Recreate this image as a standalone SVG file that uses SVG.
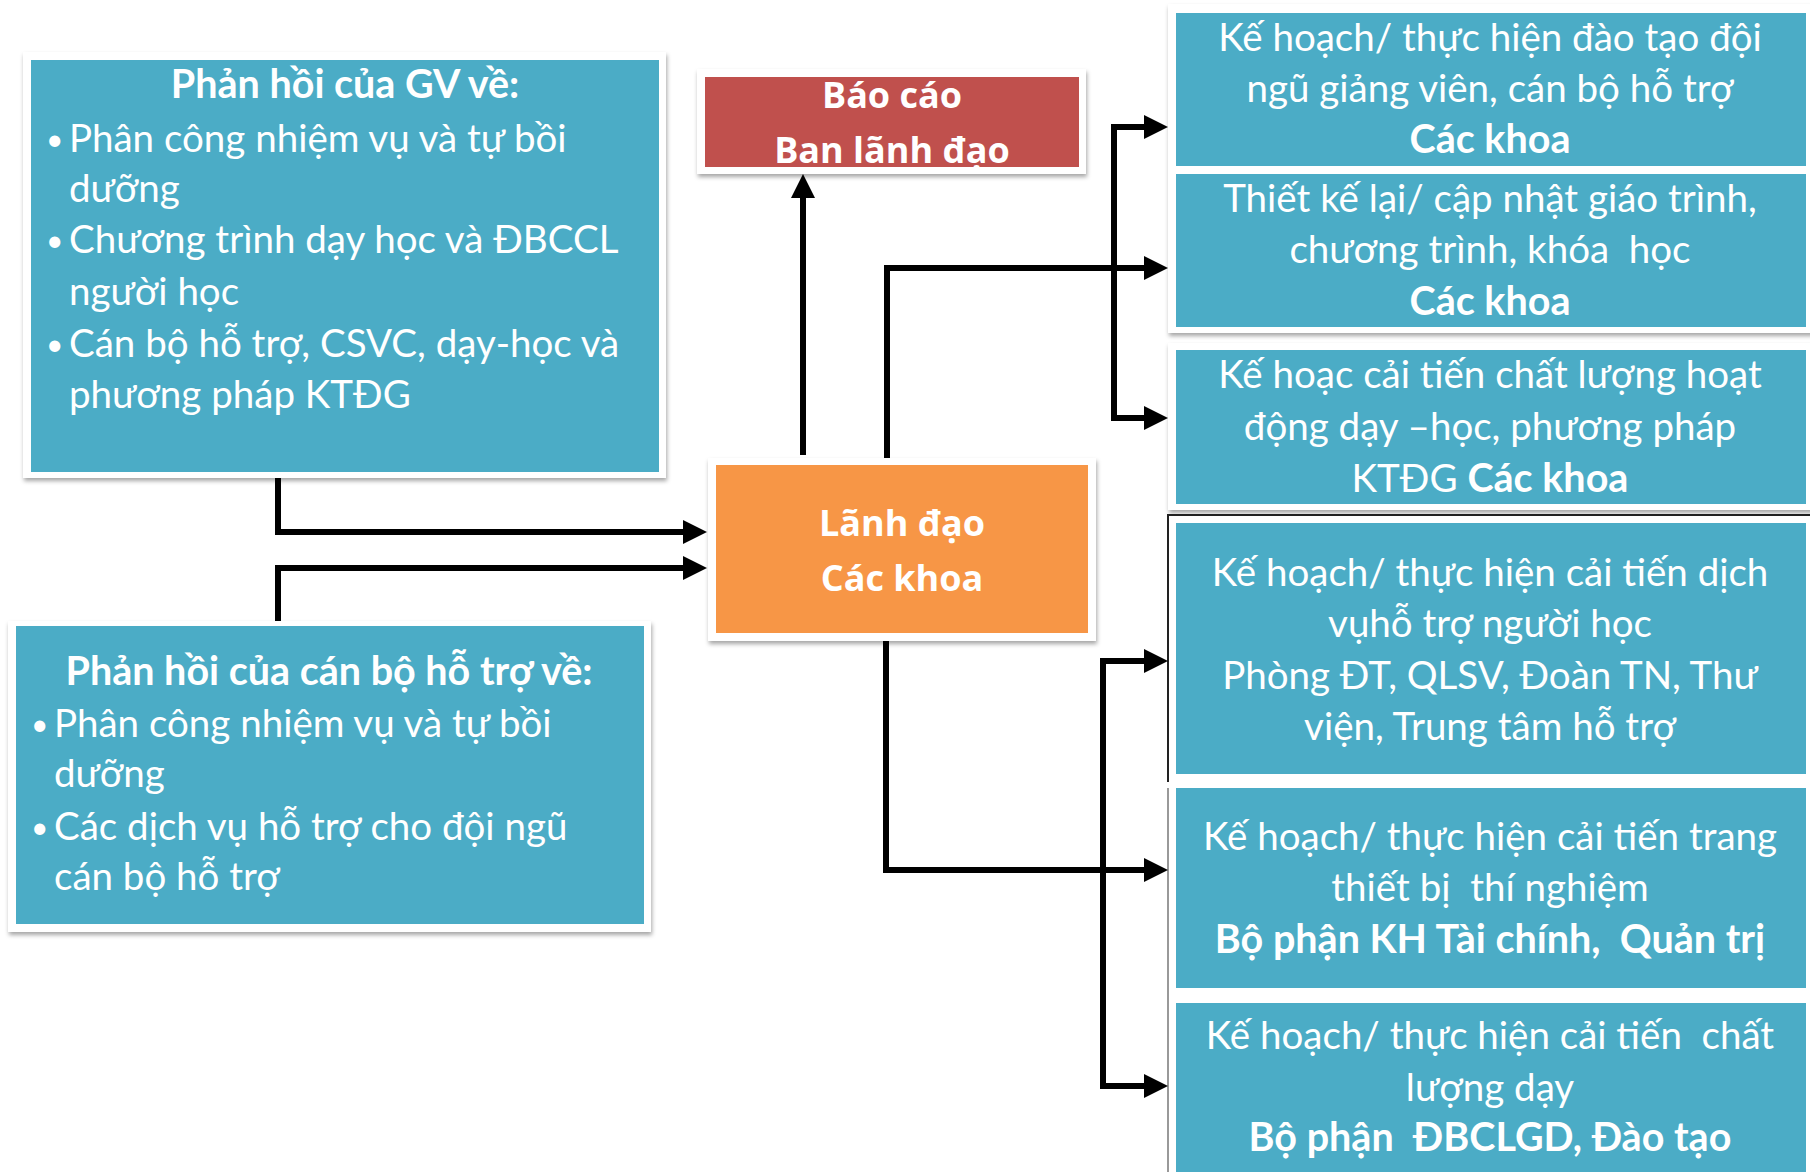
<svg xmlns="http://www.w3.org/2000/svg" width="1810" height="1172" viewBox="0 0 1810 1172">
<defs>
<style>
.frame{fill:#ffffff;filter:url(#sh)}
.blue{fill:#4BACC6}
.t{font-family:Lato,"Open Sans","Noto Sans",sans-serif;font-size:38.5px;fill:#ffffff}
.b{font-weight:bold;font-size:39.5px}
.c{text-anchor:middle}
.bu{font-family:Lato,"Open Sans",sans-serif;font-size:30px;fill:#ffffff}
.h{font-family:"Open Sans","Noto Sans",sans-serif;font-size:36px;font-weight:bold;fill:#ffffff;text-anchor:middle}
.con{fill:none;stroke:#000000;stroke-width:6;stroke-linejoin:miter;marker-end:url(#ah)}
.thin{fill:none;stroke:#222222;stroke-width:2}
</style>
<filter id="sh" x="-5%" y="-5%" width="110%" height="115%">
<feDropShadow dx="1" dy="3" stdDeviation="2" flood-color="#000" flood-opacity="0.35"/>
</filter>
<marker id="ah" viewBox="0 0 24 24" refX="4" refY="12" markerWidth="24" markerHeight="24" markerUnits="userSpaceOnUse" orient="auto-start-reverse">
<path d="M0,0 L24,12 L0,24 z" fill="#000000"/>
</marker>
</defs>
<rect width="1810" height="1172" fill="#ffffff"/>

<g id="gv-feedback">
<rect class="frame" x="23" y="52" width="643" height="426"/>
<rect class="blue" x="31" y="60" width="628" height="412"/>
<text class="t b c" x="345" y="98">Phản hồi của GV về:</text>
<text class="bu" x="46" y="150">•</text><text class="t" x="69" y="152">Phân công nhiệm vụ và tự bồi</text>
<text class="t" x="69" y="202">dưỡng</text>
<text class="bu" x="46" y="251">•</text><text class="t" x="69" y="253">Chương trình dạy học và ĐBCCL</text>
<text class="t" x="69" y="305">người học</text>
<text class="bu" x="46" y="355">•</text><text class="t" x="69" y="357">Cán bộ hỗ trợ, CSVC, dạy-học và</text>
<text class="t" x="69" y="408">phương pháp KTĐG</text>
</g>

<g id="support-feedback">
<rect class="frame" x="8" y="621" width="643" height="311"/>
<rect class="blue" x="16" y="626" width="628" height="298"/>
<text class="t b c" x="329" y="685">Phản hồi của cán bộ hỗ trợ về:</text>
<text class="bu" x="31" y="735">•</text><text class="t" x="54" y="737">Phân công nhiệm vụ và tự bồi</text>
<text class="t" x="54" y="787">dưỡng</text>
<text class="bu" x="31" y="838">•</text><text class="t" x="54" y="840">Các dịch vụ hỗ trợ cho đội ngũ</text>
<text class="t" x="54" y="890">cán bộ hỗ trợ</text>
</g>

<g id="report">
<rect class="frame" x="697" y="69" width="389" height="105"/>
<rect x="705" y="77" width="374" height="90" fill="#C0504D"/>
<text class="h" x="892" y="108">Báo cáo</text>
<text class="h" x="892" y="163">Ban lãnh đạo</text>
</g>

<g id="leaders">
<rect class="frame" x="708" y="458" width="388" height="183"/>
<rect x="716" y="465" width="372" height="168" fill="#F79646"/>
<text class="h" x="902" y="536">Lãnh đạo</text>
<text class="h" x="902" y="591">Các khoa</text>
</g>

<g id="right-frames">
<rect class="frame" x="1168" y="4" width="650" height="329"/>
<rect class="frame" x="1168" y="343" width="650" height="167"/>
<rect x="1168" y="515" width="650" height="670" fill="#ffffff"/>
<path class="thin" d="M1168,782 V515 H1810"/>
<path d="M1168,788 V1172" fill="none" stroke="#777777" stroke-width="1.5"/>
</g>

<g id="plan-training">
<rect class="blue" x="1176" y="13" width="630" height="153"/>
<text class="t c" x="1490" y="51">Kế hoạch/ thực hiện đào tạo đội</text>
<text class="t c" x="1490" y="102">ngũ giảng viên, cán bộ hỗ trợ</text>
<text class="t b c" x="1490" y="153">Các khoa</text>
</g>

<g id="redesign-curriculum">
<rect class="blue" x="1176" y="174" width="630" height="153"/>
<text class="t c" x="1490" y="212">Thiết kế lại/ cập nhật giáo trình,</text>
<text class="t c" x="1490" y="263" xml:space="preserve">chương trình, khóa  học</text>
<text class="t b c" x="1490" y="315">Các khoa</text>
</g>

<g id="improve-teaching">
<rect class="blue" x="1176" y="350" width="630" height="154"/>
<text class="t c" x="1490" y="388">Kế hoạc cải tiến chất lượng hoạt</text>
<text class="t c" x="1490" y="440">động dạy –học, phương pháp</text>
<text class="t c" x="1490" y="492">KTĐG <tspan class="b">Các khoa</tspan></text>
</g>

<g id="student-services">
<rect class="blue" x="1176" y="523" width="630" height="251"/>
<text class="t c" x="1490" y="586">Kế hoạch/ thực hiện cải tiến dịch</text>
<text class="t c" x="1490" y="637">vụhỗ trợ người học</text>
<text class="t c" x="1490" y="689">Phòng ĐT, QLSV, Đoàn TN, Thư</text>
<text class="t c" x="1490" y="740">viện, Trung tâm hỗ trợ</text>
</g>

<g id="lab-equipment">
<rect class="blue" x="1176" y="788" width="630" height="200"/>
<text class="t c" x="1490" y="850">Kế hoạch/ thực hiện cải tiến trang</text>
<text class="t c" x="1490" y="901" xml:space="preserve">thiết bị  thí nghiệm</text>
<text class="t b c" x="1490" y="953" xml:space="preserve">Bộ phận KH Tài chính,  Quản trị</text>
</g>

<g id="teaching-quality">
<rect class="blue" x="1176" y="1003" width="630" height="180"/>
<text class="t c" x="1490" y="1049" xml:space="preserve">Kế hoạch/ thực hiện cải tiến  chất</text>
<text class="t c" x="1490" y="1101">lượng dạy</text>
<text class="t b c" x="1490" y="1151" xml:space="preserve">Bộ phận  ĐBCLGD, Đào tạo</text>
</g>

<g id="connectors">
<path class="con" d="M803,455 V194"/>
<path class="con" d="M887,458 V268 H1148"/>
<path class="con" d="M1148,127 H1114 V418 H1148" style="marker-start:url(#ah)"/>
<path class="con" d="M886,641 V870 H1148"/>
<path class="con" d="M1148,661 H1103 V1086 H1148" style="marker-start:url(#ah)"/>
<path class="con" d="M278,478 V532 H687"/>
<path class="con" d="M278,621 V568 H687"/>
</g>
</svg>
